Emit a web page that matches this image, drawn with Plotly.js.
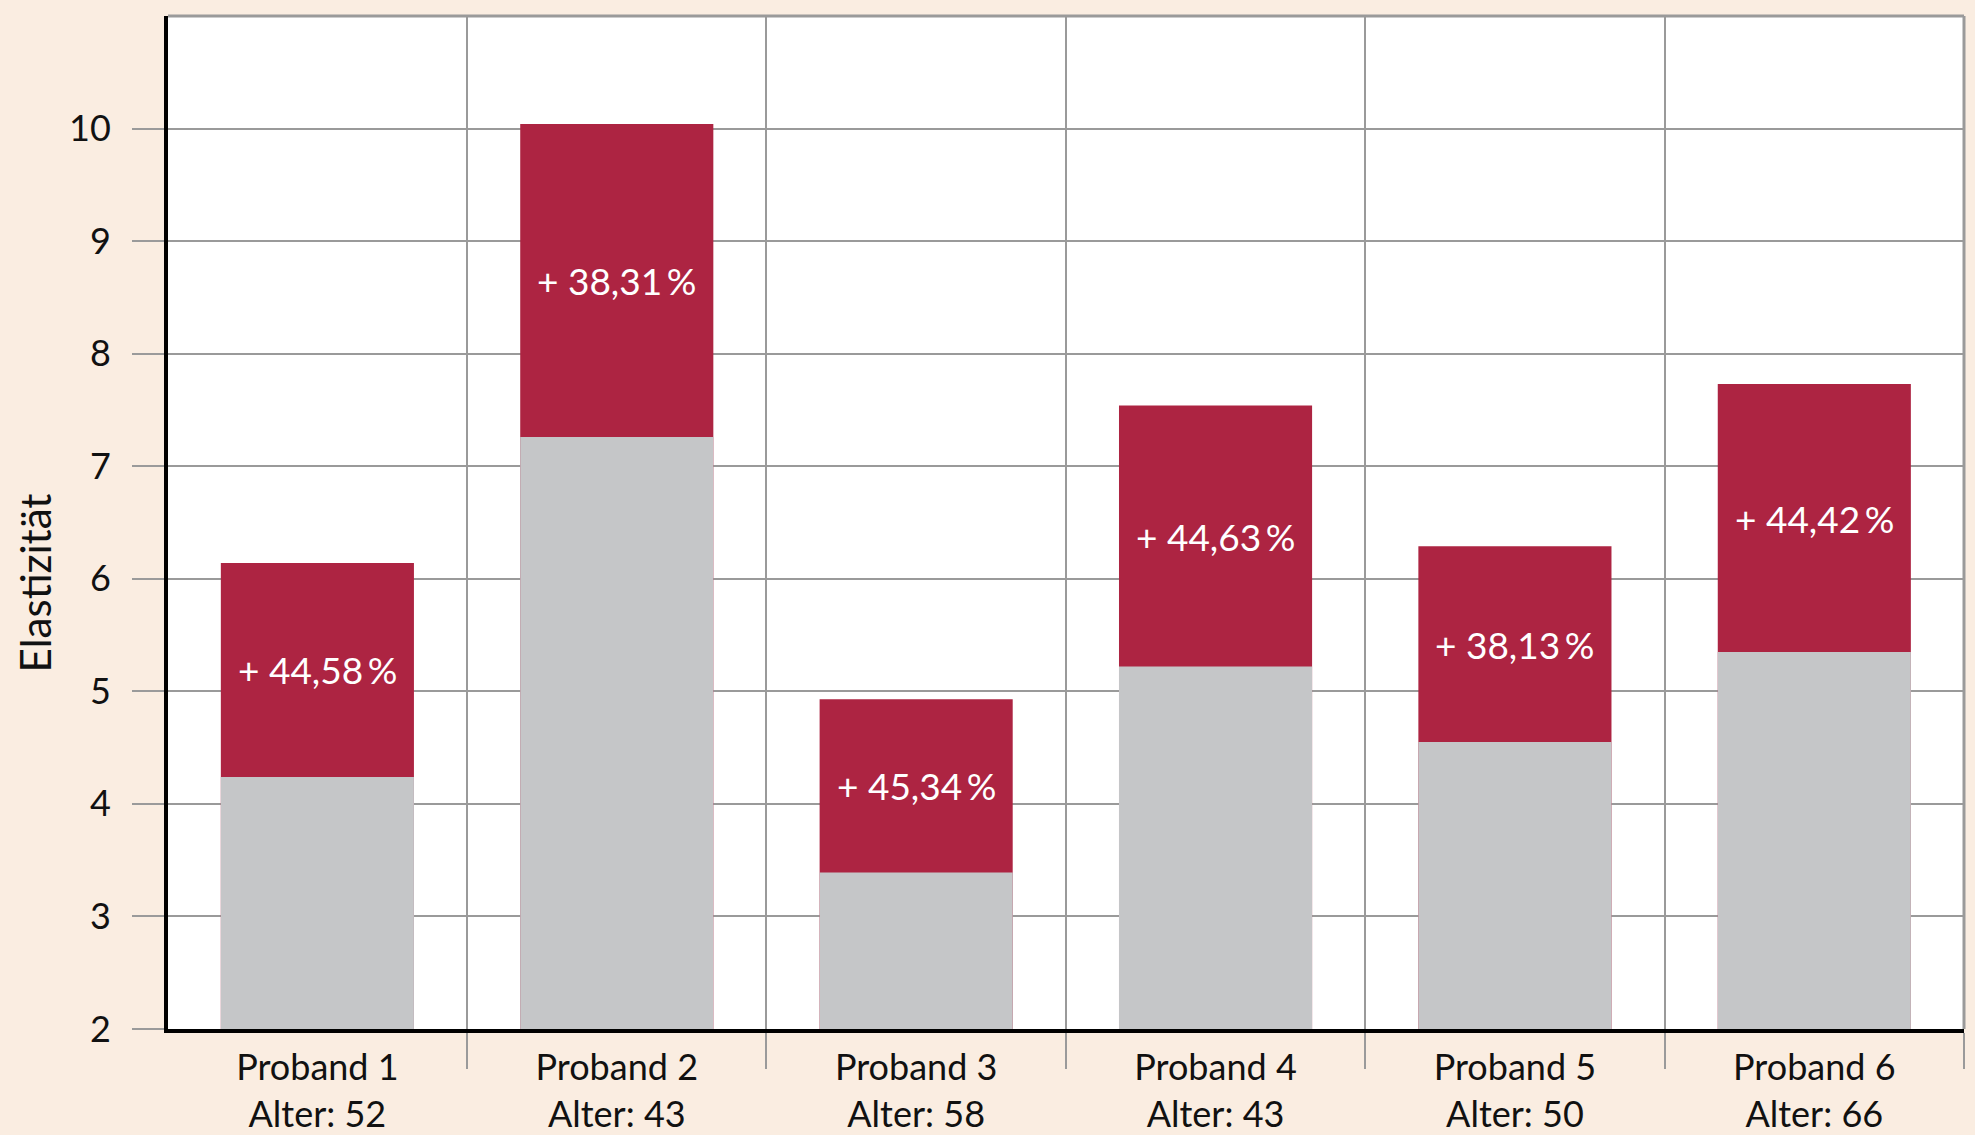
<!DOCTYPE html>
<html>
<head>
<meta charset="utf-8">
<script src="https://cdn.plot.ly/plotly-3.0.1.min.js"></script>
<style>
html, body { margin: 0; padding: 0; background: #FAEDE1; }
#chart { width: 1975px; height: 1135px; }
</style>
</head>
<body>
<div id="chart"></div>
<script>
const categories = ["Proband 1", "Proband 2", "Proband 3", "Proband 4", "Proband 5", "Proband 6"];
const ages = ["Alter: 52", "Alter: 43", "Alter: 58", "Alter: 43", "Alter: 50", "Alter: 66"];
const before = [4.24, 7.26, 3.39, 5.22, 4.55, 5.35];
const after = [6.14, 10.04, 4.93, 7.54, 6.29, 7.73];
const changeLabels = ["+ 44,58\u2009%", "+ 38,31\u2009%", "+ 45,34\u2009%", "+ 44,63\u2009%", "+ 38,13\u2009%", "+ 44,42\u2009%"];
const yTicks = [2, 3, 4, 5, 6, 7, 8, 9, 10];

const FONT = "Lato, 'Open Sans', sans-serif";
const tickText = categories.map((c, i) => c + "<br>" + ages[i]);

const traces = [
  {
    type: "bar", x: categories, y: after, width: 0.645,
    marker: { color: "#AD2442", line: { width: 0 } },
    hoverinfo: "skip", showlegend: false
  },
  {
    type: "bar", x: categories, y: before, width: 0.645,
    marker: { color: "#C5C6C8", line: { width: 0 } },
    hoverinfo: "skip", showlegend: false
  }
];

const annotations = categories.map((c, i) => ({
  x: c, y: (before[i] + after[i]) / 2, xref: "x", yref: "y",
  text: changeLabels[i], showarrow: false, yshift: 0,
  font: { family: FONT, size: 37, color: "#FFFFFF" }
}));
annotations.push({
  xref: "paper", yref: "paper", x: -0.074, y: 0.44,
  xanchor: "center", yanchor: "middle",
  text: "Elastizität", textangle: -90, showarrow: false,
  font: { family: FONT, size: 42, color: "#111111" }
});

const layout = {
  width: 1975, height: 1135,
  paper_bgcolor: "#FAEDE1", plot_bgcolor: "#FFFFFF",
  margin: { l: 168, r: 11, t: 16, b: 106 },
  barmode: "overlay",
  font: { family: FONT, size: 36, color: "#111111" },
  xaxis: {
    type: "category", categoryorder: "array", categoryarray: categories,
    tickvals: categories, ticktext: tickText,
    tickson: "boundaries", ticks: "outside", ticklen: 36, tickwidth: 2, tickcolor: "#9A9A9A",
    showgrid: true, gridcolor: "#9A9A9A", gridwidth: 2,
    showline: true, linecolor: "#000000", linewidth: 4,
    range: [-0.499, 5.5], ticklabelstandoff: 4,
    tickfont: { family: FONT, size: 36, color: "#111111" }
  },
  yaxis: {
    range: [2, 11], tickvals: yTicks, ticktext: yTicks.map(String),
    ticks: "outside", ticklen: 32, tickwidth: 2, tickcolor: "#9A9A9A",
    showgrid: true, gridcolor: "#9A9A9A", gridwidth: 2,
    showline: true, linecolor: "#000000", linewidth: 4,
    zeroline: false, ticklabelstandoff: 14,
    tickfont: { family: FONT, size: 36, color: "#111111" }
  },
  shapes: [
    { type: "line", xref: "paper", yref: "paper", x0: 0, x1: 1, y0: 1, y1: 1, line: { color: "#9A9A9A", width: 3 } },
    { type: "line", xref: "paper", yref: "paper", x0: 1, x1: 1, y0: 0, y1: 1, line: { color: "#9A9A9A", width: 3 } }
  ],
  annotations: annotations
};

Plotly.newPlot("chart", traces, layout, { displayModeBar: false, staticPlot: true });
</script>
</body>
</html>
